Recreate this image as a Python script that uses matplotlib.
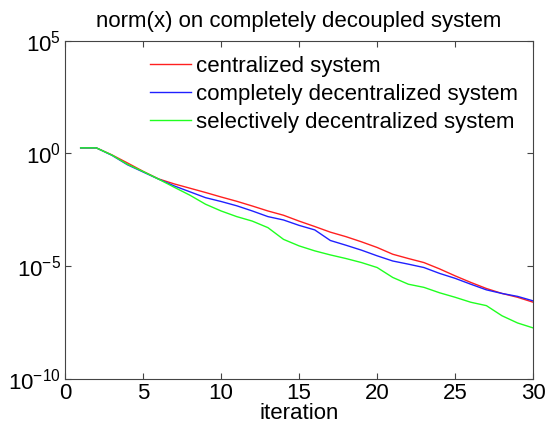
import numpy as np
import matplotlib.pyplot as plt
from matplotlib.ticker import NullLocator

plt.rcParams['font.family'] = ['Liberation Sans', 'DejaVu Sans']
plt.rcParams['mathtext.fontset'] = 'custom'
plt.rcParams['mathtext.rm'] = 'Liberation Sans'

# iterations and log10(norm(x))
iterations = np.arange(1, 31)
centralized_log10 = [0.25, 0.25, -0.06, -0.42, -0.79, -1.13, -1.35, -1.54, -1.73, -1.93,
                     -2.12, -2.33, -2.55, -2.74, -3.00, -3.24, -3.49, -3.69, -3.92, -4.17,
                     -4.47, -4.66, -4.84, -5.12, -5.43, -5.72, -5.99, -6.21, -6.38, -6.60]
complete_log10 = [0.25, 0.25, -0.08, -0.50, -0.82, -1.14, -1.44, -1.70, -1.96, -2.13,
                  -2.32, -2.55, -2.80, -2.95, -3.19, -3.39, -3.86, -4.07, -4.29, -4.54,
                  -4.77, -4.91, -5.06, -5.32, -5.54, -5.80, -6.05, -6.21, -6.34, -6.54]
selective_log10 = [0.25, 0.25, -0.07, -0.48, -0.80, -1.14, -1.50, -1.85, -2.25, -2.55,
                   -2.80, -3.00, -3.29, -3.81, -4.10, -4.32, -4.50, -4.66, -4.84, -5.06,
                   -5.50, -5.80, -5.94, -6.18, -6.38, -6.60, -6.75, -7.20, -7.52, -7.74]

labels = ['centralized system', 'completely decentralized system',
          'selectively decentralized system']

fig = plt.figure(figsize=(5.56, 4.34), dpi=100)
ax = fig.add_axes([0.117, 0.127, 0.842, 0.779])

ax.plot(iterations, 10 ** np.array(centralized_log10), color='#ff2020', lw=1.0, label=labels[0])
ax.plot(iterations, 10 ** np.array(complete_log10), color='#2020ff', lw=1.0, label=labels[1])
ax.plot(iterations, 10 ** np.array(selective_log10), color='#20ff20', lw=1.0, label=labels[2])

ax.set_yscale('log')
ax.set_xlim(0, 30)
ax.set_ylim(1e-10, 1e5)
ax.set_xticks([0, 5, 10, 15, 20, 25, 30])
ax.set_yticks([1e-10, 1e-5, 1e0, 1e5])
ax.yaxis.set_minor_locator(NullLocator())
ax.tick_params(direction='in', top=True, right=True, labelsize=16, length=4,
               color='#444444', pad=3)
for s in ax.spines.values():
    s.set_color('#444444')

ax.set_xlabel('iteration', fontsize=16, labelpad=-1)
ax.set_title('norm(x) on completely decoupled system', fontsize=16, pad=10)

ax.legend(loc='upper right', bbox_to_anchor=(1.005, 1.008), frameon=False, fontsize=16,
          handlelength=1.85, handletextpad=0.2, labelspacing=0.32, borderpad=0.3)

fig.savefig('out.png', dpi=100)
